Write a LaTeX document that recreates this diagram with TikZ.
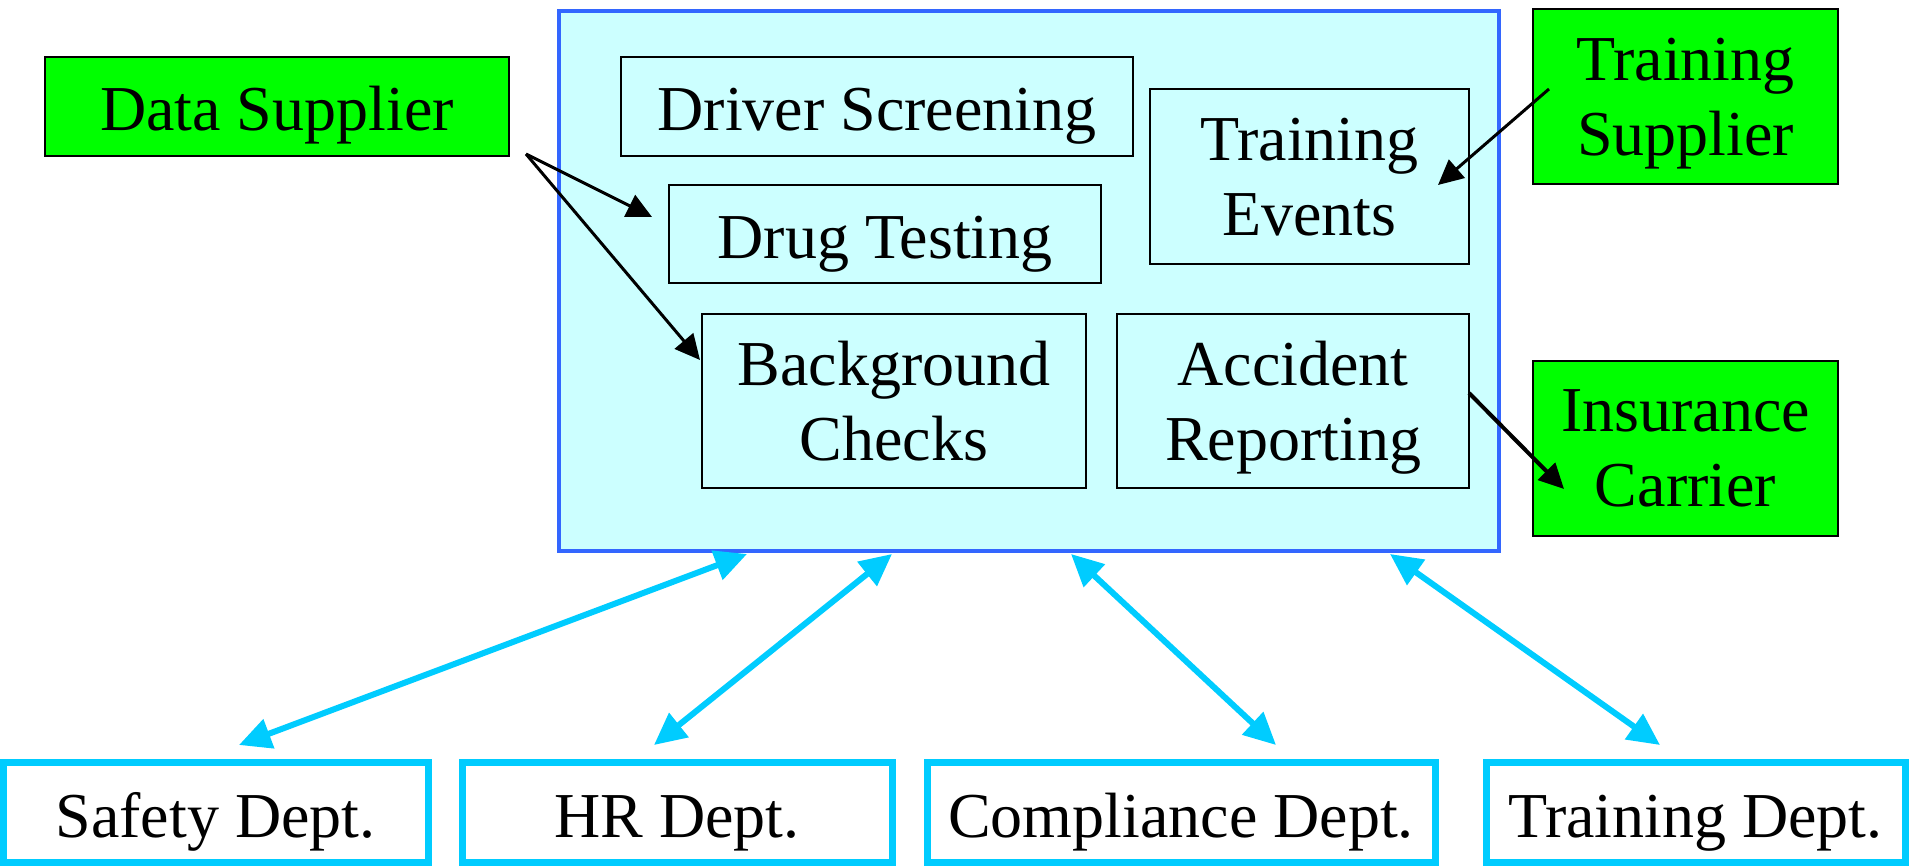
\documentclass[tikz,border=0pt]{standalone}
\usepackage{fontspec}
\setmainfont{Liberation Serif}
\usetikzlibrary{arrows.meta}
\definecolor{mainfill}{HTML}{CCFFFF}
\definecolor{mainedge}{HTML}{3366FF}
\definecolor{deptcyan}{HTML}{00CCFF}
\definecolor{supgreen}{HTML}{00FF00}
\tikzset{
  big/.style={font=\fontsize{64}{75}\selectfont},
  box/.style={big, draw=black, line width=2pt, fill=mainfill, inner sep=0pt, align=center, text depth=-6pt},
  oneline/.style={text height=49pt, text depth=0pt},
  supplier/.style={box, fill=supgreen},
  dept/.style={big, draw=deptcyan, line width=7pt, fill=white, inner sep=0pt, text height=50pt, text depth=0pt},
  mainbox/.style={draw=mainedge, line width=4pt, fill=mainfill, inner sep=0pt},
  blk/.style={line width=3pt, -{Triangle[length=25pt,width=24pt]}},
  biarrow/.style={draw=deptcyan, line width=6pt, {Triangle[length=32pt,width=30pt]}-{Triangle[length=32pt,width=30pt]}}
}
\begin{document}
\begin{tikzpicture}[x=1pt,y=-1pt]
\useasboundingbox (0,0) rectangle (1909,866);
% main system box
\node[mainbox, minimum width=940pt, minimum height=540pt] (main) at (1029,281) {};
% inner modules
\node[box, oneline, minimum width=512pt, minimum height=99pt] (drv) at (877,106.5) {Driver Screening};
\node[box, oneline, minimum width=432pt, minimum height=98pt] (drug) at (885,234) {Drug Testing};
\node[box, minimum width=319pt, minimum height=175pt] (tev) at (1309.5,176.5) {Training\\Events};
\node[box, minimum width=384pt, minimum height=174pt] (bg) at (894,401) {Background\\Checks};
\node[box, minimum width=352pt, minimum height=174pt] (acc) at (1293,401) {Accident\\Reporting};
% suppliers
\node[supplier, oneline, minimum width=464pt, minimum height=99pt] (ds) at (277,106.5) {Data Supplier};
\node[supplier, minimum width=305pt, minimum height=175pt] (ts) at (1685.5,96.5) {Training\\Supplier};
\node[supplier, minimum width=305pt, minimum height=175pt] (ic) at (1685.5,448.5) {Insurance\\Carrier};
% departments
\node[dept, minimum width=425pt, minimum height=100pt] (safety) at (215.5,812) {Safety Dept.};
\node[dept, minimum width=430pt, minimum height=100pt] (hr) at (677,812) {HR Dept.};
\node[dept, minimum width=508pt, minimum height=100pt] (comp) at (1181,812) {Compliance Dept.};
\node[dept, minimum width=419pt, minimum height=100pt] (trd) at (1695.5,812) {Training Dept.};
% connector end points
\coordinate (dsout) at (526,154);
\coordinate (drugin) at (652,217);
\coordinate (bgin) at (700,360);
\coordinate (tsout) at (1549,89);
\coordinate (tevin) at (1438,185);
\coordinate (accout) at (1469,393);
\coordinate (icin) at (1564,489);
\coordinate (m1) at (747,554);
\coordinate (m2) at (892,554);
\coordinate (m3) at (1071,554);
\coordinate (m4) at (1390,554);
\coordinate (d1) at (239,745);
\coordinate (d2) at (654,745);
\coordinate (d3) at (1276,745);
\coordinate (d4) at (1660,745);
% black connectors
\draw[blk] (dsout) -- (drugin);
\draw[blk] (dsout) -- (bgin);
\draw[blk] (tsout) -- (tevin);
\draw[blk, line width=4pt] (accout) -- (icin);
% cyan two-way connectors
\draw[biarrow] (m1) -- (d1);
\draw[biarrow] (m2) -- (d2);
\draw[biarrow] (m3) -- (d3);
\draw[biarrow] (m4) -- (d4);
\end{tikzpicture}
\end{document}
